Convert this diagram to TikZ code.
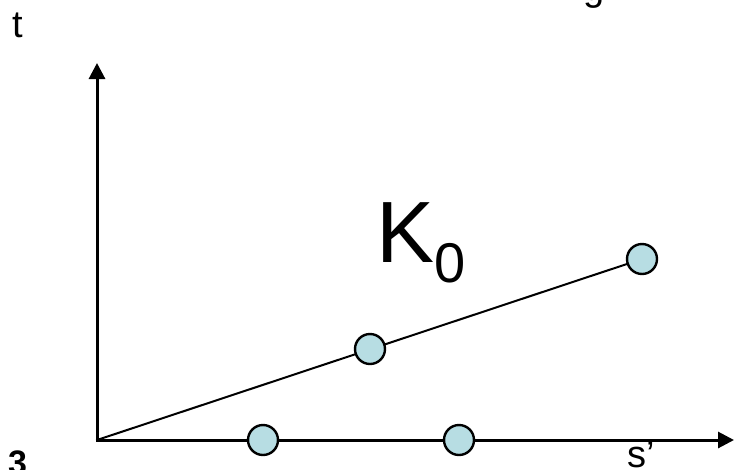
\documentclass[tikz,border=0pt]{standalone}
\usepackage{fontspec}
\setmainfont{Liberation Sans}
\usetikzlibrary{arrows.meta}
\definecolor{dotfill}{RGB}{183,221,227}
\tikzset{
  dot/.style={circle,draw=black,line width=2.4pt,fill=dotfill,minimum size=30pt,inner sep=0pt},
  axis/.style={line width=3pt,-{Triangle[length=16pt,width=16pt]}},
  lab/.style={inner sep=0pt,anchor=base west,font=\fontsize{38}{40}\selectfont}
}
\begin{document}
\begin{tikzpicture}[x=1pt,y=-1pt]
\useasboundingbox (0,0) rectangle (741,469);
\clip (0,0) rectangle (741,469);
% coordinates
\coordinate (o) at (97,440);
\coordinate (ytip) at (97,63);
\coordinate (xtip) at (734,440);
\coordinate (p1) at (263,440);
\coordinate (p2) at (459,440);
\coordinate (p3) at (370,349);
\coordinate (p4) at (642,259);
% axes and line
\draw[axis] ([yshift=-1.5pt]o) -- (ytip);
\draw[axis] ([xshift=-1.5pt]o) -- (xtip);
\draw[line width=2pt] (o) -- (p4);
% dots
\node[dot] (c1) at (p1) {};
\node[dot] (c2) at (p2) {};
\node[dot] (c3) at (p3) {};
\node[dot] (c4) at (p4) {};
% labels
\node[lab] (t) at (12,37) {t};
\node[lab] (s) at (627,467) {s’};
\node[inner sep=0pt,anchor=base west,font=\fontsize{87}{90}\selectfont] (K) at (376,262) {K};
\node[inner sep=0pt,anchor=base west,font=\fontsize{56}{60}\selectfont] (K0) at (434,282) {0};
% clipped fragments at the edges
\node[lab] (g) at (583,0) {g};
\node[inner sep=0pt,anchor=base west,font=\fontsize{34}{36}\selectfont\bfseries] (three) at (8,474) {3};
\node[lab] (pr) at (-8,459) {’};
\end{tikzpicture}
\end{document}
